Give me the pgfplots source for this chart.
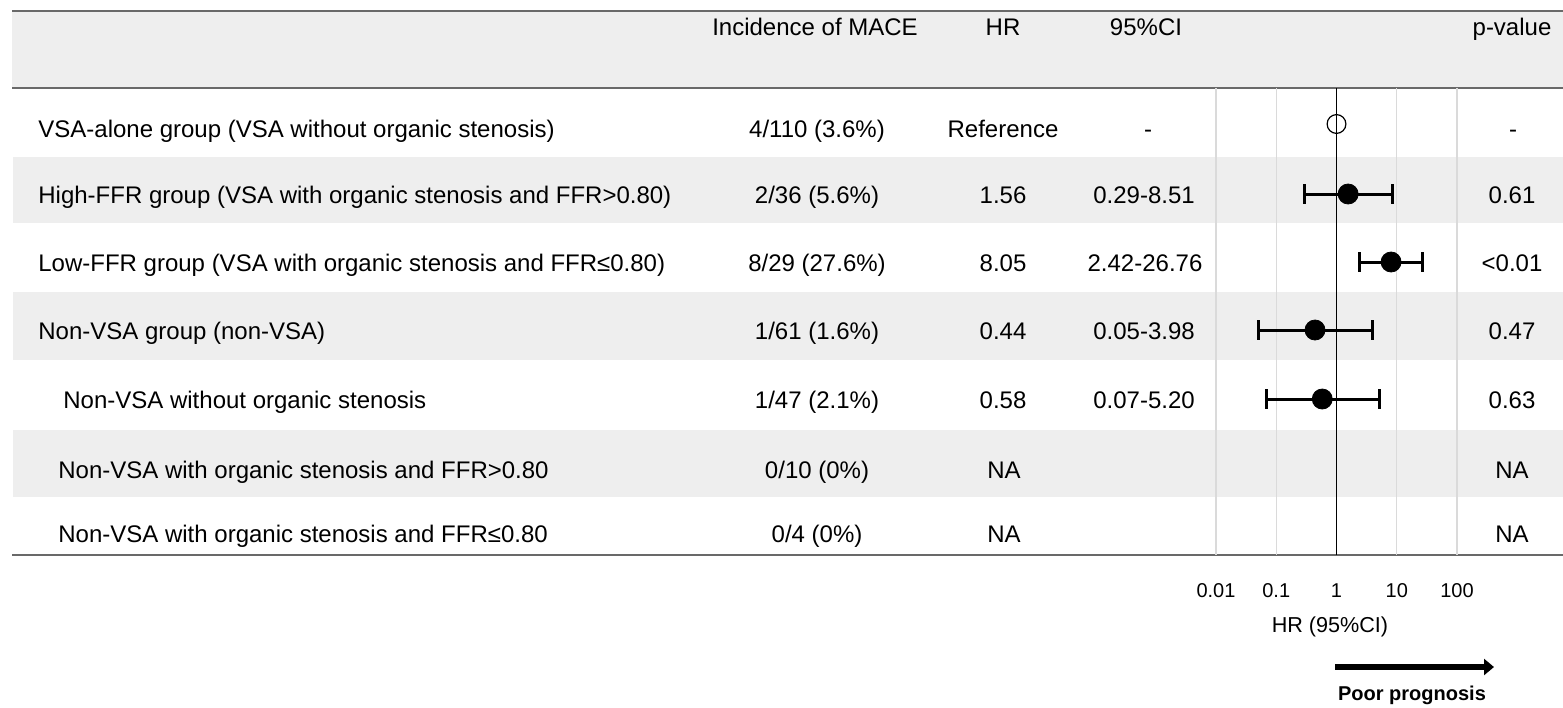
\documentclass[border=0pt]{standalone}
\usepackage{fontspec}
\setmainfont{Liberation Sans}
\usepackage{pgfplots}
\pgfplotsset{compat=1.18}
\usetikzlibrary{arrows.meta}

\definecolor{band}{RGB}{238,238,238}
\definecolor{rulec}{RGB}{105,105,105}
\definecolor{gridc}{RGB}{218,218,218}
\newcommand{\fs}{\fontsize{12pt}{14pt}\selectfont}
\tikzset{t/.style={inner sep=0pt, font=\fs, anchor=base}}

\begin{document}
\begin{tikzpicture}
% table part, coordinates in pixels of the reference
\begin{axis}[name=tbl, at={(0pt,0pt)}, anchor=north west, scale only axis,
  width=781.5pt, height=353.5pt, xmin=0, xmax=1563, ymin=0, ymax=707,
  y dir=reverse, hide axis, clip=false]
  \fill[band] (axis cs:12,11) rectangle (axis cs:1563,88);
  \fill[band] (axis cs:13,157) rectangle (axis cs:1563,223);
  \fill[band] (axis cs:13,292) rectangle (axis cs:1563,360);
  \fill[band] (axis cs:13,430) rectangle (axis cs:1563,497);
  \draw[rulec, line width=1pt] (axis cs:12,11) -- (axis cs:1563,11);
  \draw[rulec, line width=1pt] (axis cs:12,88) -- (axis cs:1563,88);
  \draw[rulec, line width=1.2pt] (axis cs:12,555) -- (axis cs:1563,555);
  % header
  \node[t] at (axis cs:815,35) {Incidence  of MACE};
  \node[t] at (axis cs:1003,35) {HR};
  \node[t] at (axis cs:1146,35) {95\%CI};
  \node[t] at (axis cs:1512,35) {p-value};
  % labels
  \node[t, anchor=base west] at (axis cs:38,137) {VSA-alone group (VSA without  organic stenosis)};
  \node[t, anchor=base west] at (axis cs:38,203) {High-FFR group (VSA with organic stenosis and FFR>0.80)};
  \node[t, anchor=base west] at (axis cs:38,271) {Low-FFR group (VSA with organic stenosis and FFR≤0.80)};
  \node[t, anchor=base west] at (axis cs:38,339) {Non-VSA group (non-VSA)};
  \node[t, anchor=base west] at (axis cs:63,408) {Non-VSA without  organic stenosis};
  \node[t, anchor=base west] at (axis cs:58,478) {Non-VSA with organic stenosis and FFR>0.80};
  \node[t, anchor=base west] at (axis cs:58,542) {Non-VSA with organic stenosis and FFR≤0.80};
  % incidence
  \node[t] at (axis cs:817,137) {4/110 (3.6\%)};
  \node[t] at (axis cs:817,203) {2/36 (5.6\%)};
  \node[t] at (axis cs:817,271) {8/29 (27.6\%)};
  \node[t] at (axis cs:817,339) {1/61 (1.6\%)};
  \node[t] at (axis cs:817,408) {1/47 (2.1\%)};
  \node[t] at (axis cs:817,478) {0/10 (0\%)};
  \node[t] at (axis cs:817,542) {0/4 (0\%)};
  % HR
  \node[t] at (axis cs:1003,137) {Reference};
  \node[t] at (axis cs:1003,203) {1.56};
  \node[t] at (axis cs:1003,271) {8.05};
  \node[t] at (axis cs:1003,339) {0.44};
  \node[t] at (axis cs:1003,408) {0.58};
  \node[t] at (axis cs:1004,478) {NA};
  \node[t] at (axis cs:1004,542) {NA};
  % 95% CI
  \node[t] at (axis cs:1148,137) {-};
  \node[t] at (axis cs:1144,203) {0.29-8.51};
  \node[t] at (axis cs:1145,271) {2.42-26.76};
  \node[t] at (axis cs:1144,339) {0.05-3.98};
  \node[t] at (axis cs:1144,408) {0.07-5.20};
  % p-value
  \node[t] at (axis cs:1513,137) {-};
  \node[t] at (axis cs:1512,203) {0.61};
  \node[t] at (axis cs:1512,271) {<0.01};
  \node[t] at (axis cs:1512,339) {0.47};
  \node[t] at (axis cs:1512,408) {0.63};
  \node[t] at (axis cs:1512,478) {NA};
  \node[t] at (axis cs:1512,542) {NA};
  % axis title and arrow
  \node[t, font=\fontsize{10.8pt}{13pt}\selectfont] at (axis cs:1330,632) {HR (95\%CI)};
  \draw[black, line width=2.8pt, -{Triangle[length=5pt, width=8pt]}] (axis cs:1335,667) -- (axis cs:1494,667);
  \node[t, font=\fontsize{10pt}{12pt}\selectfont\bfseries] at (axis cs:1412,700) {Poor prognosis};
\end{axis}
% forest plot, y = pixels measured from the bottom edge
\begin{axis}[at={(608pt,-44pt)}, anchor=north west, scale only axis,
  width=120.5pt, height=233.5pt, xmode=log, xmin=0.01, xmax=100,
  ymin=152, ymax=619, axis line style={draw=none},
  xtick={0.01,0.1,1,10,100}, xticklabels={0.01,0.1,1,10,100}, ytick=\empty,
  xminorticks=false, major tick length=0pt, minor tick length=0pt,
  xmajorgrids, grid style={gridc, line width=0.6pt},
  xticklabel style={anchor=base, yshift=-21pt, inner sep=0pt, font=\fontsize{10pt}{12pt}\selectfont},
  clip=false]
  \addplot[black, line width=0.8pt] coordinates {(1,152) (1,619)};
  \addplot[black, line width=1.5pt, mark=|, mark size=5pt] coordinates {(0.29,513) (8.51,513)};
  \addplot[black, line width=1.5pt, mark=|, mark size=5pt] coordinates {(2.42,445) (26.76,445)};
  \addplot[black, line width=1.5pt, mark=|, mark size=5pt] coordinates {(0.05,377) (3.98,377)};
  \addplot[black, line width=1.5pt, mark=|, mark size=5pt] coordinates {(0.07,308) (5.20,308)};
  \addplot[only marks, mark=*, mark size=5pt, black] coordinates {(1.56,513) (8.05,445) (0.44,377) (0.58,308)};
  \addplot[only marks, mark=o, mark size=4.7pt, black, mark options={fill=white, line width=0.6pt}] coordinates {(1,583)};
\end{axis}
\pgfresetboundingbox
\path (0pt,0pt) rectangle (781.5pt,-353.5pt);
\end{tikzpicture}
\end{document}
